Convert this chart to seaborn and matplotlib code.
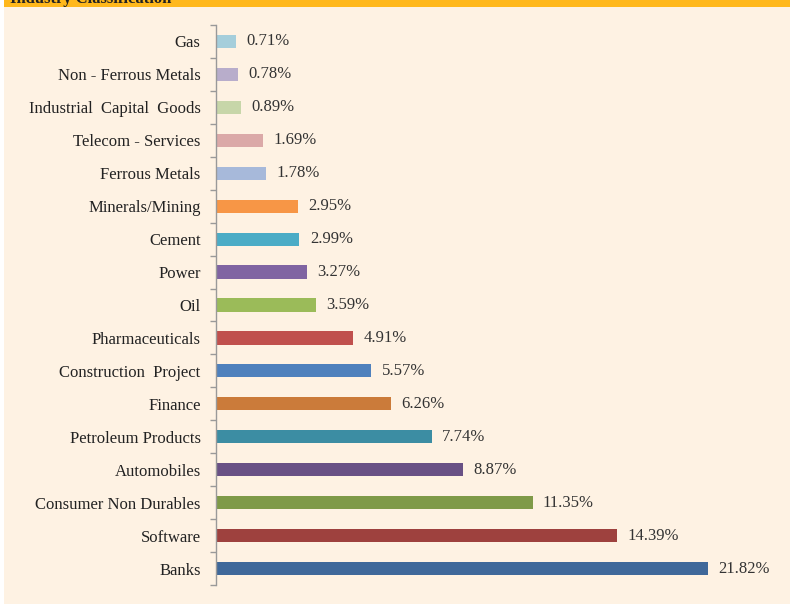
import matplotlib
matplotlib.use("Agg")
import matplotlib.pyplot as plt
import seaborn as sns
from matplotlib.patches import Rectangle

# data, top to bottom as in the chart
sectors = [
    "Gas", "Non - Ferrous Metals", "Industrial  Capital  Goods", "Telecom - Services",
    "Ferrous Metals", "Minerals/Mining", "Cement", "Power", "Oil", "Pharmaceuticals",
    "Construction  Project", "Finance", "Petroleum Products", "Automobiles",
    "Consumer Non Durables", "Software", "Banks",
]
weights = [0.71, 0.78, 0.89, 1.69, 1.78, 2.95, 2.99, 3.27, 3.59, 4.91,
           5.57, 6.26, 7.74, 8.87, 11.35, 14.39, 21.82]
bar_colors = [
    "#A5CEDB", "#B8ADCB", "#C7D6A9", "#DBA9A8", "#A7B9DA", "#F79646", "#4BACC6",
    "#8064A2", "#9BBB59", "#C0504D", "#4F81BD", "#CB7B3A", "#3C8DA3", "#695185",
    "#7F9A48", "#9E413E", "#3F689A",
]
x_max = 17.64  # axis max of the original chart, longest bar is cut there

bg = "#FEF2E3"
sns.set_style("white")
plt.rcParams["font.family"] = ["Liberation Serif", "DejaVu Serif"]

fig = plt.figure(figsize=(7.9, 6.04), dpi=100, facecolor="white")
# beige panel and orange header band
fig.patches.append(Rectangle((4 / 790, 0), 1, 1, transform=fig.transFigure,
                             facecolor=bg, edgecolor="none", zorder=-10))
fig.patches.append(Rectangle((4 / 790, 1 - 7 / 604), 1, 7 / 604, transform=fig.transFigure,
                             facecolor="#FFB81C", edgecolor="none", zorder=-9))
fig.text(10 / 790, 1 - 3 / 604, "Industry Classification", fontsize=12,
         fontweight="bold", color="#222222", va="baseline")

ax = fig.add_axes([216 / 790, 1 - 585 / 604, 492 / 790, 560 / 604])
ax.set_facecolor("none")

sns.barplot(x=weights, y=sectors, hue=sectors, palette=bar_colors, orient="h",
            width=0.4, legend=False, ax=ax, saturation=1, linewidth=0)

# value labels just past the (visible) end of each bar
for i, v in enumerate(weights):
    ax.annotate(f"{v:.2f}%", (min(v, x_max), i), xytext=(7.5, 0),
                textcoords="offset points", va="center", ha="left",
                fontsize=12, color="#333333", annotation_clip=False)

ax.set_xlim(0, x_max)
ax.set_ylim(16.5, -0.5)
ax.set_xlabel("")
ax.set_ylabel("")
ax.set_xticks([])
ax.set_yticks([i - 0.5 for i in range(18)], minor=True)
ax.tick_params(axis="y", which="major", length=0, pad=11, labelsize=12,
               labelcolor="#222222")
ax.tick_params(axis="y", which="minor", length=4, width=1, color="#999999", left=True)
for s in ["top", "right", "bottom"]:
    ax.spines[s].set_visible(False)
ax.spines["left"].set_color("#999999")
ax.spines["left"].set_linewidth(1)

fig.savefig("out.png", dpi=100, facecolor=fig.get_facecolor())
